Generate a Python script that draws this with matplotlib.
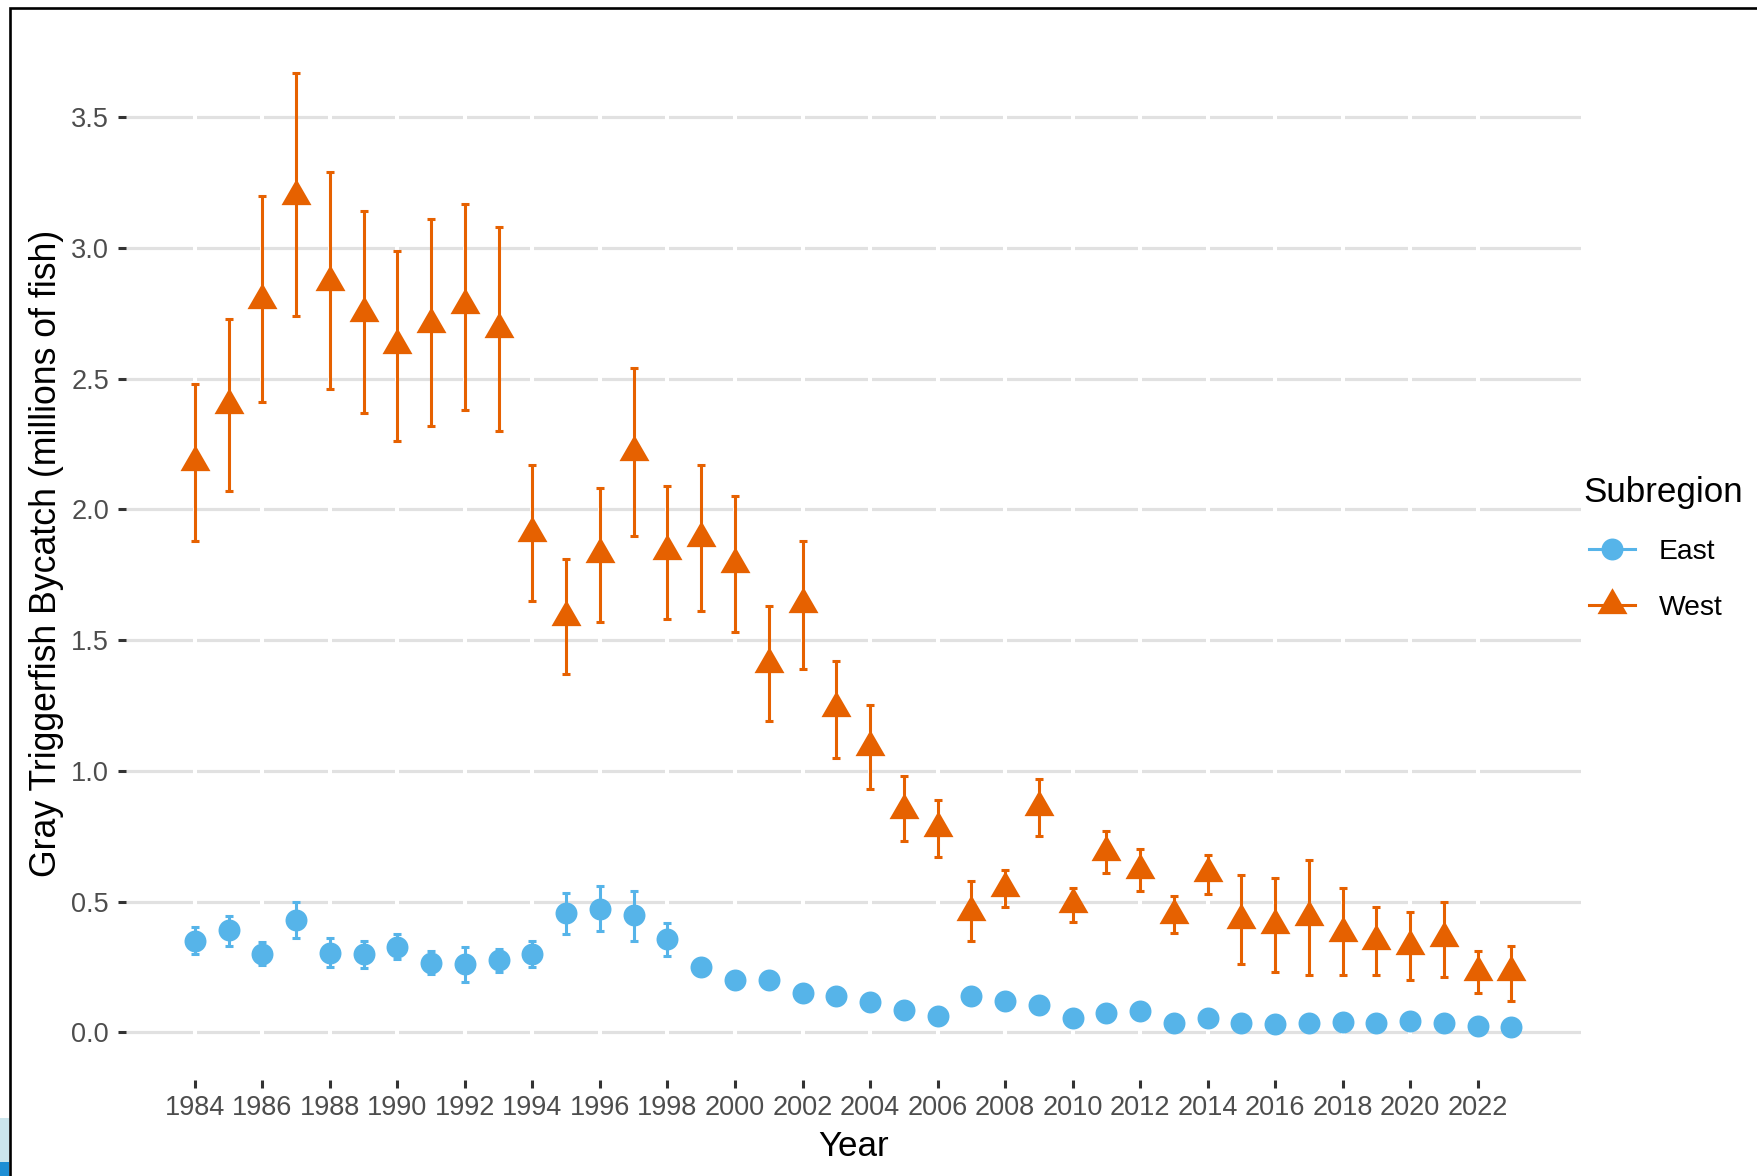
import matplotlib
matplotlib.use("Agg")
import matplotlib.pyplot as plt
from matplotlib.lines import Line2D
from matplotlib.patches import Rectangle
from matplotlib.legend_handler import HandlerLine2D
import numpy as np

# ---- data: gray triggerfish bycatch (millions of fish), estimate with interval ----
years = list(range(1984, 2024))

west_est = [2.18, 2.40, 2.80, 3.20, 2.87, 2.75, 2.63, 2.71, 2.78, 2.69,
            1.91, 1.59, 1.83, 2.22, 1.84, 1.89, 1.79, 1.41, 1.64, 1.24,
            1.09, 0.85, 0.78, 0.46, 0.55, 0.86, 0.49, 0.69, 0.62, 0.45,
            0.61, 0.43, 0.41, 0.44, 0.38, 0.35, 0.33, 0.36, 0.23, 0.23]
west_lo = [1.88, 2.07, 2.41, 2.74, 2.46, 2.37, 2.26, 2.32, 2.38, 2.30,
           1.65, 1.37, 1.57, 1.90, 1.58, 1.61, 1.53, 1.19, 1.39, 1.05,
           0.93, 0.73, 0.67, 0.35, 0.48, 0.75, 0.42, 0.61, 0.54, 0.38,
           0.53, 0.26, 0.23, 0.22, 0.22, 0.22, 0.20, 0.21, 0.15, 0.12]
west_hi = [2.48, 2.73, 3.20, 3.67, 3.29, 3.14, 2.99, 3.11, 3.17, 3.08,
           2.17, 1.81, 2.08, 2.54, 2.09, 2.17, 2.05, 1.63, 1.88, 1.42,
           1.25, 0.98, 0.89, 0.58, 0.62, 0.97, 0.55, 0.77, 0.70, 0.52,
           0.68, 0.60, 0.59, 0.66, 0.55, 0.48, 0.46, 0.50, 0.31, 0.33]

east_est = [0.350, 0.390, 0.300, 0.430, 0.305, 0.300, 0.327, 0.266, 0.260, 0.277,
            0.300, 0.455, 0.473, 0.449, 0.356, 0.249, 0.200, 0.200, 0.149, 0.140,
            0.117, 0.085, 0.062, 0.140, 0.120, 0.104, 0.054, 0.073, 0.081, 0.037,
            0.054, 0.034, 0.030, 0.034, 0.041, 0.034, 0.043, 0.037, 0.024, 0.021]
east_lo = [0.300, 0.330, 0.258, 0.362, 0.250, 0.245, 0.280, 0.222, 0.194, 0.232,
           0.250, 0.376, 0.389, 0.350, 0.292, 0.220, 0.178, 0.178, 0.130, 0.122,
           0.100, 0.070, 0.050, 0.120, 0.100, 0.090, 0.045, 0.060, 0.070, 0.030,
           0.045, 0.028, 0.024, 0.028, 0.034, 0.028, 0.036, 0.030, 0.019, 0.016]
east_hi = [0.402, 0.446, 0.345, 0.497, 0.362, 0.350, 0.375, 0.311, 0.325, 0.317,
           0.349, 0.534, 0.560, 0.540, 0.417, 0.280, 0.222, 0.222, 0.170, 0.160,
           0.135, 0.100, 0.075, 0.160, 0.140, 0.120, 0.065, 0.085, 0.095, 0.045,
           0.065, 0.042, 0.037, 0.041, 0.049, 0.041, 0.051, 0.045, 0.030, 0.027]

x_ticks = list(range(1984, 2023, 2))
y_ticks = [0.0, 0.5, 1.0, 1.5, 2.0, 2.5, 3.0, 3.5]

EAST_COLOR = "#56B4E9"
WEST_COLOR = "#E66100"

plt.rcParams['font.family'] = ['Liberation Sans', 'DejaVu Sans']

W, H = 1758, 1176
fig = plt.figure(figsize=(W / 100, H / 100), dpi=100)
fig.patch.set_facecolor("white")


def fx(px):
    return px / W


def fy(py):
    return 1 - py / H


ax = fig.add_axes([fx(126), fy(1080), fx(1581) - fx(126), fy(26) - fy(1080)])
ax.set_xlim(1981.96, 2025.06)
ax.set_ylim(-0.1825, 3.849)

for s in ax.spines.values():
    s.set_visible(False)

ax.set_xticks(x_ticks)
ax.set_xticklabels([str(y) for y in x_ticks])
ax.set_yticks(y_ticks)
ax.set_yticklabels([f"{v:.1f}" for v in y_ticks])
ax.tick_params(axis="both", length=5.8, width=2.2, color="#333333",
               labelsize=19.5, labelcolor="#4D4D4D")
ax.tick_params(axis="y", pad=6.5)
ax.tick_params(axis="x", pad=5.0)

ax.yaxis.grid(True, color="#E1E1E1", linewidth=2.3)
ax.xaxis.grid(False)
ax.set_axisbelow(True)
# thin breaks in the horizontal grid at each year tick
ax.vlines(x_ticks, -0.1825, 3.849, colors="white", linewidth=2.9, zorder=0.8)

# triangle glyph with its centroid on the data value
tri = [(0.0, 1.0), (0.866, -0.5), (-0.866, -0.5), (0.0, 1.0)]

e_est = np.array(east_est)
w_est = np.array(west_est)

ax.errorbar(years, e_est, yerr=[e_est - np.array(east_lo), np.array(east_hi) - e_est],
            fmt="none", ecolor=EAST_COLOR, elinewidth=2.2, capsize=2.6, capthick=2.2,
            zorder=2)
ax.plot(years, e_est, linestyle="none", marker="o", markersize=15.8,
        color=EAST_COLOR, markeredgewidth=0, zorder=3)

ax.errorbar(years, w_est, yerr=[w_est - np.array(west_lo), np.array(west_hi) - w_est],
            fmt="none", ecolor=WEST_COLOR, elinewidth=2.2, capsize=2.6, capthick=2.2,
            zorder=2)
ax.plot(years, w_est, linestyle="none", marker=tri, markersize=24.9,
        color=WEST_COLOR, markeredgewidth=0, zorder=3)

ax.set_xlabel("Year", fontsize=25.2, color="black")
ax.set_ylabel("Gray Triggerfish Bycatch (millions of fish)", fontsize=25.7, color="black")
ax.xaxis.label.set_va("center")
ax.yaxis.label.set_va("center")
ax.xaxis.set_label_coords(0.5, (1080 - 1146) / 1054)
ax.yaxis.set_label_coords((47 - 126) / 1455, 0.5)

handles = [
    Line2D([], [], color=EAST_COLOR, marker="o", markersize=15.8, lw=2.2,
           markeredgewidth=0),
    Line2D([], [], color=WEST_COLOR, marker=tri, markersize=24.9, lw=2.2,
           markeredgewidth=0),
]
leg = ax.legend(handles, ["East", "West"], title="Subregion",
                loc="upper left", bbox_to_anchor=(fx(1583), fy(476)),
                bbox_transform=fig.transFigure, frameon=False,
                fontsize=20.3, title_fontsize=25.2, handlelength=1.85,
                handletextpad=0.85, labelspacing=1.07, borderpad=0,
                borderaxespad=0, alignment="left",
                handler_map={Line2D: HandlerLine2D(xpad=0.22)})

# frame edges and the strip at the lower-left corner
fig.add_artist(Rectangle((0, fy(1162)), fx(9), fy(1118) - fy(1162),
                         transform=fig.transFigure, color="#CBE5EC", lw=0))
fig.add_artist(Rectangle((0, 0), fx(9), fy(1162),
                         transform=fig.transFigure, color="#1E8FD5", lw=0))
fig.add_artist(Line2D([fx(10.3), fx(10.3), 1.0], [0.0, fy(7.8), fy(7.8)],
                      transform=fig.transFigure, color="black", lw=1.9,
                      solid_joinstyle="miter"))

fig.savefig("out.png", dpi=100, facecolor="white")
